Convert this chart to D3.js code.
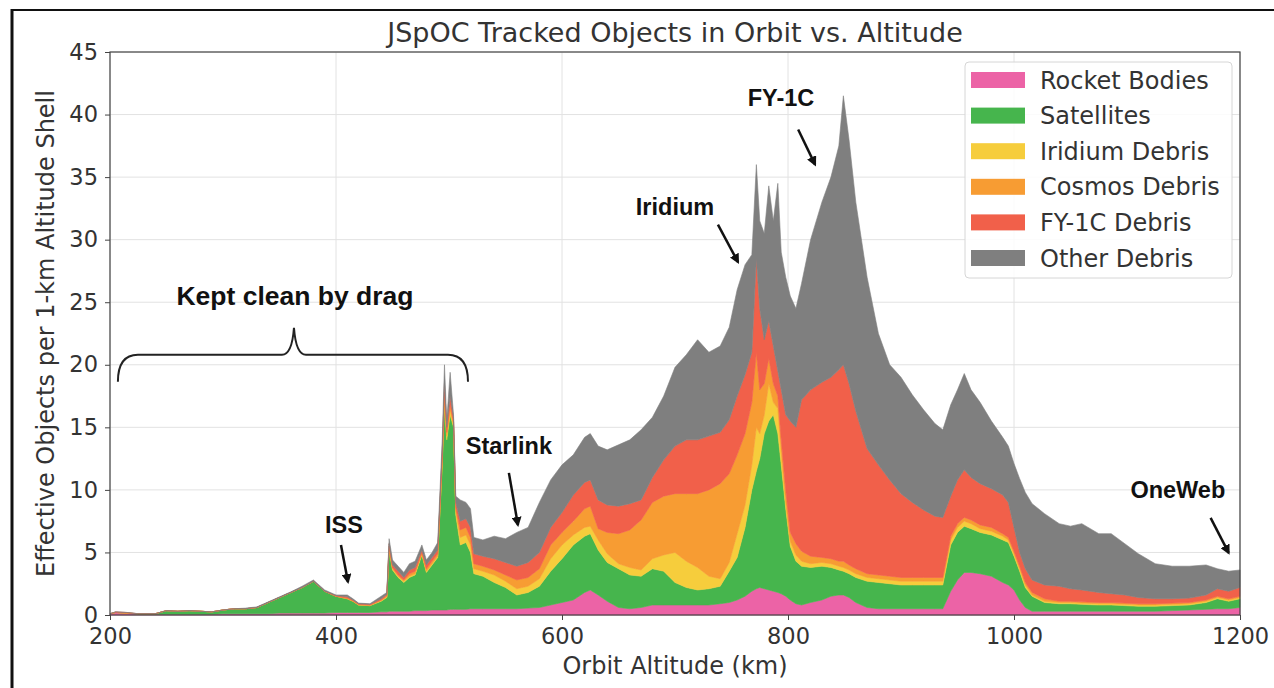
<!DOCTYPE html>
<html>
<head>
<meta charset="utf-8">
<script src="https://cdnjs.cloudflare.com/ajax/libs/d3/7.8.5/d3.min.js"></script>
<style>
  body { margin: 0; background: #fff; }
  svg { display: block; }
</style>
</head>
<body>
<svg id="chart"></svg>
<script>
// Orbit altitude samples (km)
const altitudes = [
  200,205,215,225,240,250,260,270,280,290,
  300,310,320,330,340,350,360,370,380,385,
  390,400,410,415,420,430,440,445,447,450,
  455,460,465,470,476,480,485,490,494,496,
  498,501,504,506,510,515,519,522,530,540,
  550,560,570,580,590,600,610,620,625,632,
  640,650,660,670,680,690,700,710,720,730,
  740,748,755,762,768,772,775,779,783,787,
  791,794,798,802,807,812,820,830,838,845,
  849,854,860,870,880,890,900,910,920,930,
  937,944,950,956,962,970,980,990,995,1000,
  1005,1010,1016,1027,1040,1050,1060,1075,1086,1098,
  1110,1125,1140,1155,1170,1180,1190,1200
];

// effective objects per 1-km shell, one array per category
const rocketBodies = [
  .1,.2,.15,.05,.05,.05,.05,.05,.05,.05,
  .1,.1,.1,.1,.1,.15,.15,.15,.15,.15,
  .15,.2,.2,.2,.2,.2,.25,.25,.3,.3,
  .3,.3,.3,.35,.35,.35,.4,.4,.4,.4,
  .4,.45,.45,.45,.45,.45,.5,.5,.5,.5,
  .5,.5,.55,.6,.8,1.0,1.2,1.8,2.0,1.6,
  1.1,.6,.5,.6,.8,.8,.8,.8,.8,.8,
  .9,1.0,1.2,1.5,1.9,2.1,2.2,2.1,2.0,1.9,
  1.8,1.7,1.5,1.2,.9,.8,1.0,1.2,1.5,1.6,
  1.6,1.4,1.0,.6,.5,.5,.5,.5,.5,.5,
  .5,1.9,2.8,3.4,3.4,3.3,3.1,2.6,2.4,2.0,
  1.2,.6,.3,.3,.3,.3,.3,.3,.3,.3,
  .3,.3,.35,.4,.45,.5,.5,.6
];
const satellites = [
  0,0,0,.05,.05,.3,.25,.3,.25,.2,
  .3,.4,.4,.5,.9,1.25,1.65,2.05,2.55,2.15,
  1.75,1.3,1.1,.9,.6,.55,.85,1.15,4.9,3.3,
  2.7,2.3,2.7,2.85,4.45,3.05,3.6,4.2,11.6,16.6,
  13.6,15.55,14.55,7.55,5.15,5.35,4.5,2.8,2.6,2.1,
  1.7,1.1,1.25,1.7,2.7,3.5,4.4,4.5,4.5,3.6,
  3.1,3.1,2.7,2.5,2.9,2.7,1.8,1.4,1.2,1.3,
  1.4,2.5,3.4,5.5,8.1,9.4,10.3,12.4,13.5,14.1,
  12.7,10.3,7.0,4.3,3.4,3.1,2.8,2.7,2.3,2.0,
  1.9,1.9,2.0,2.1,2.1,2.0,1.9,1.9,1.9,1.9,
  1.9,3.7,3.8,3.7,3.5,3.3,3.3,3.4,3.4,2.7,
  2.3,1.6,1.2,.7,.6,.6,.55,.5,.5,.45,
  .4,.4,.4,.4,.55,.8,.6,.7
];
const iridiumDebris = [
  0,0,0,0,0,0,0,0,0,0,
  0,0,0,0,0,0,0,0,0,0,
  0,0,0,0,0,0,.05,.05,.1,.1,
  .1,.1,.1,.1,.1,.1,.1,.1,.3,.4,
  .3,.4,.2,.3,.6,.6,.6,.4,.4,.6,
  .5,.5,.5,.6,1.0,1.1,.8,.7,.6,.8,
  .7,.4,.6,.5,.8,1.3,2.4,2.1,1.8,1.0,
  .6,.7,1.9,1.8,2.0,3.5,2.0,1.5,3.0,1.0,
  2.0,1.0,.5,.4,.5,.4,.3,.3,.3,.3,
  .3,.3,.3,.3,.3,.3,.3,.3,.3,.3,
  .3,.4,.4,.4,.4,.3,.3,.3,.2,.2,
  .2,.2,.1,.1,.1,.1,.1,.1,.1,.1,
  .1,.1,.1,.1,.1,.1,.1,.1
];
const cosmosDebris = [
  0,0,0,0,0,0,0,0,0,0,
  0,0,0,0,0,0,0,0,0,0,
  0,0,.05,.05,.05,.05,.05,.1,.2,.1,
  .1,.1,.2,.2,.1,.2,.2,.2,.3,.4,
  .3,.4,.2,.3,.6,.6,.6,.4,.4,.4,
  .5,.7,.7,.8,1.1,1.0,1.1,1.5,1.6,.9,
  1.7,2.4,3.0,4.0,4.5,4.7,4.7,5.4,5.9,6.9,
  7.6,7.1,6.3,5.7,5.0,6.0,3.5,2.5,2.0,1.5,
  1.0,1.0,1.0,.7,.9,.8,.6,.4,.4,.4,
  .5,.4,.4,.3,.3,.3,.3,.3,.3,.3,
  .3,.3,.3,.3,.3,.3,.3,.2,.2,.2,
  .2,.2,.2,.2,.1,.1,.1,.1,.1,.1,
  .1,.1,.1,.1,.1,.1,.1,.1
];
const fy1cDebris = [
  0,.05,.05,0,0,0,0,0,0,0,
  0,0,0,0,0,0,0,0,0,0,
  0,.05,.1,.05,.05,.05,.1,.1,.2,.2,
  .3,.2,.3,.3,.2,.3,.3,.3,.4,.7,
  .4,.7,.3,.4,.7,.7,.8,.8,.8,.9,
  1.0,1.1,1.2,1.3,1.4,1.6,2.1,2.1,2.1,2.3,
  2.2,2.2,2.1,1.6,2.0,2.9,3.8,4.3,4.3,4.3,
  4.1,4.3,4.7,4.7,4.0,7.5,6.5,3.5,3.0,3.0,
  2.0,4.0,6.0,8.9,9.3,12.1,13.3,14.0,14.5,15.3,
  15.7,14.5,12.6,10.0,8.8,7.7,6.7,6.0,5.4,4.9,
  4.8,3.2,3.5,3.8,3.4,3.3,3.1,3.1,2.8,1.9,
  1.1,1.1,1.0,1.1,1.2,1.0,.95,.8,.7,.65,
  .5,.4,.35,.35,.4,.6,.6,.7
];
const otherDebris = [
  0,0,0,0,0,0,0,0,0,0,
  0,0,.05,.05,.05,.05,.05,.1,.1,.1,
  .1,.05,.15,.1,.05,.05,.2,.15,.4,.4,
  .4,.4,.5,.5,.4,.4,.4,.6,1.0,1.5,
  .5,1.9,.3,.5,1.7,1.3,1.5,1.3,1.3,1.8,
  1.9,2.7,2.8,4.0,3.8,3.8,3.2,3.6,3.7,4.3,
  4.4,4.9,5.1,5.6,4.8,5.1,6.3,6.8,8.0,6.7,
  6.9,7.4,8.5,8.8,7.8,7.5,7.0,8.5,10.8,10.0,
  15.0,11.0,11.0,10.0,9.5,9.3,12.0,14.4,16.0,17.9,
  21.5,19.5,16.7,13.7,10.5,9.2,9.3,8.6,8.0,7.4,
  7.0,7.3,7.2,7.7,7.0,6.5,5.4,4.6,4.5,5.1,
  5.9,6.1,6.1,5.7,5.0,5.0,5.3,4.7,4.8,4.1,
  3.5,2.8,2.6,2.55,2.4,1.6,1.6,1.4
];

const categories = ["Rocket Bodies", "Satellites", "Iridium Debris", "Cosmos Debris", "FY-1C Debris", "Other Debris"];
const colors = ["#ec63a6", "#46b54d", "#f6cd3c", "#f79c33", "#f1604a", "#7f7f7f"];
const xTicks = [200, 400, 600, 800, 1000, 1200];
const yTicks = [0, 5, 10, 15, 20, 25, 30, 35, 40, 45];

// annotation text + arrows, in data coordinates (km, objects)
const notes = [
  { label: "ISS",      at: [407, 6.56],  from: [404.4, 5.6],  to: [410.6, 2.64] },
  { label: "Starlink", at: [553, 12.9],  from: [553, 11.36],  to: [561, 7.2] },
  { label: "Iridium",  at: [700, 32],    from: [738, 31.2],   to: [755.8, 28.2] },
  { label: "FY-1C",    at: [793.8, 40.7],from: [809, 38.8],   to: [824, 36] },
  { label: "OneWeb",   at: [1145, 9.36], from: [1174, 7.76],  to: [1190, 4.96] }
];

const W = 1274, H = 688;
const svg = d3.select("#chart").attr("width", W).attr("height", H);
const FONT = "'DejaVu Sans', sans-serif";
const BOLD = "'Liberation Sans', Arial, sans-serif";

const x = d3.scaleLinear().domain([200, 1200]).range([110, 1240]);
const y = d3.scaleLinear().domain([0, 45]).range([615, 52]);

// figure border (screenshot frame)
svg.append("line").attr("x1", 12).attr("y1", 10).attr("x2", W).attr("y2", 10)
  .attr("stroke", "#111").attr("stroke-width", 2);
svg.append("line").attr("x1", 12).attr("y1", 9).attr("x2", 12).attr("y2", H)
  .attr("stroke", "#111").attr("stroke-width", 3);

// grid
const grid = svg.append("g");
grid.selectAll(".gx").data(xTicks).join("line")
  .attr("x1", d => x(d)).attr("x2", d => x(d))
  .attr("y1", y(45)).attr("y2", y(0))
  .attr("stroke", "#e2e2e2").attr("stroke-width", 1);
grid.selectAll(".gy").data(yTicks).join("line")
  .attr("x1", x(200)).attr("x2", x(1200))
  .attr("y1", d => y(d)).attr("y2", d => y(d))
  .attr("stroke", "#e2e2e2").attr("stroke-width", 1);

// stacked areas
const keys = ["rb", "sat", "ir", "co", "fy", "ot"];
const rows = altitudes.map((a, i) => ({
  alt: a,
  rb: rocketBodies[i], sat: satellites[i], ir: iridiumDebris[i],
  co: cosmosDebris[i], fy: fy1cDebris[i], ot: otherDebris[i]
}));
const series = d3.stack().keys(keys)(rows);

const area = d3.area()
  .x(d => x(d.data.alt))
  .y0(d => y(d[0]))
  .y1(d => y(d[1]));

svg.append("g").selectAll("path")
  .data(series)
  .join("path")
  .attr("d", area)
  .attr("fill", (d, i) => colors[i])
  .attr("stroke", (d, i) => colors[i])
  .attr("stroke-width", 0.6);

// axes
const yAxis = svg.append("g")
  .attr("transform", `translate(${x(200)},0)`)
  .call(d3.axisLeft(y).tickValues(yTicks).tickSize(5).tickPadding(7));
const xAxis = svg.append("g")
  .attr("transform", `translate(0,${y(0)})`)
  .call(d3.axisBottom(x).tickValues(xTicks).tickFormat(d3.format("d")).tickSize(5).tickPadding(8));
[xAxis, yAxis].forEach(a => {
  a.select(".domain").remove();
  a.selectAll(".tick line").attr("stroke", "#444");
  a.selectAll(".tick text").attr("font-family", FONT).attr("font-size", 22.5).attr("fill", "#333");
});

// spines
svg.append("rect")
  .attr("x", x(200)).attr("y", y(45))
  .attr("width", x(1200) - x(200)).attr("height", y(0) - y(45))
  .attr("fill", "none").attr("stroke", "#444").attr("stroke-width", 1.2);

// title and axis labels
svg.append("text").attr("x", (x(200) + x(1200)) / 2).attr("y", 42)
  .attr("text-anchor", "middle").attr("font-family", FONT).attr("font-size", 27).attr("fill", "#333")
  .text("JSpOC Tracked Objects in Orbit vs. Altitude");
svg.append("text").attr("x", (x(200) + x(1200)) / 2).attr("y", 674)
  .attr("text-anchor", "middle").attr("font-family", FONT).attr("font-size", 24).attr("fill", "#333")
  .text("Orbit Altitude (km)");
svg.append("text")
  .attr("transform", `translate(54,${(y(0) + y(45)) / 2}) rotate(-90)`)
  .attr("text-anchor", "middle").attr("font-family", FONT).attr("font-size", 24).attr("fill", "#333")
  .text("Effective Objects per 1-km Altitude Shell");

// legend
const legend = svg.append("g").attr("transform", "translate(965,62)");
legend.append("rect").attr("width", 267).attr("height", 216).attr("rx", 4)
  .attr("fill", "#fff").attr("fill-opacity", 0.85).attr("stroke", "#d6d6d6");
categories.forEach((c, i) => {
  const cy = 18 + i * 35.6;
  legend.append("rect").attr("x", 6).attr("y", cy - 8).attr("width", 54).attr("height", 16)
    .attr("fill", colors[i]);
  legend.append("text").attr("x", 75).attr("y", cy + 8.5)
    .attr("font-family", FONT).attr("font-size", 24).attr("fill", "#333").text(c);
});

// annotations
svg.append("defs").append("marker")
  .attr("id", "head").attr("viewBox", "0 0 10 10")
  .attr("refX", 8).attr("refY", 5)
  .attr("markerWidth", 4).attr("markerHeight", 4)
  .attr("orient", "auto")
  .append("path").attr("d", "M0,0 L10,5 L0,10 z").attr("fill", "#111");

const ann = svg.append("g");
notes.forEach(n => {
  ann.append("text").attr("x", x(n.at[0])).attr("y", y(n.at[1]))
    .attr("text-anchor", "middle")
    .attr("font-family", BOLD)
    .attr("font-weight", "bold").attr("font-size", 23.5).attr("fill", "#111")
    .text(n.label);
  ann.append("line")
    .attr("x1", x(n.from[0])).attr("y1", y(n.from[1]))
    .attr("x2", x(n.to[0])).attr("y2", y(n.to[1]))
    .attr("stroke", "#111").attr("stroke-width", 2.5)
    .attr("marker-end", "url(#head)");
});

// brace over the low-altitude region
const bx0 = x(207), bx1 = x(516.8), bxm = x(362.8);
const by0 = y(18.64), by1 = y(20.8), byp = y(22.96);
ann.append("path")
  .attr("d", `M${bx0},${by0} Q${bx0},${by1} ${bx0 + 20},${by1} L${bxm - 12},${by1}` +
             ` Q${bxm - 2},${by1} ${bxm},${byp} Q${bxm + 2},${by1} ${bxm + 12},${by1}` +
             ` L${bx1 - 20},${by1} Q${bx1},${by1} ${bx1},${by0}`)
  .attr("fill", "none").attr("stroke", "#222").attr("stroke-width", 2);
ann.append("text").attr("x", x(363.7)).attr("y", y(24.8))
  .attr("text-anchor", "middle")
  .attr("font-family", BOLD)
  .attr("font-weight", "bold").attr("font-size", 26.5).attr("fill", "#111")
  .text("Kept clean by drag");
</script>
</body>
</html>
